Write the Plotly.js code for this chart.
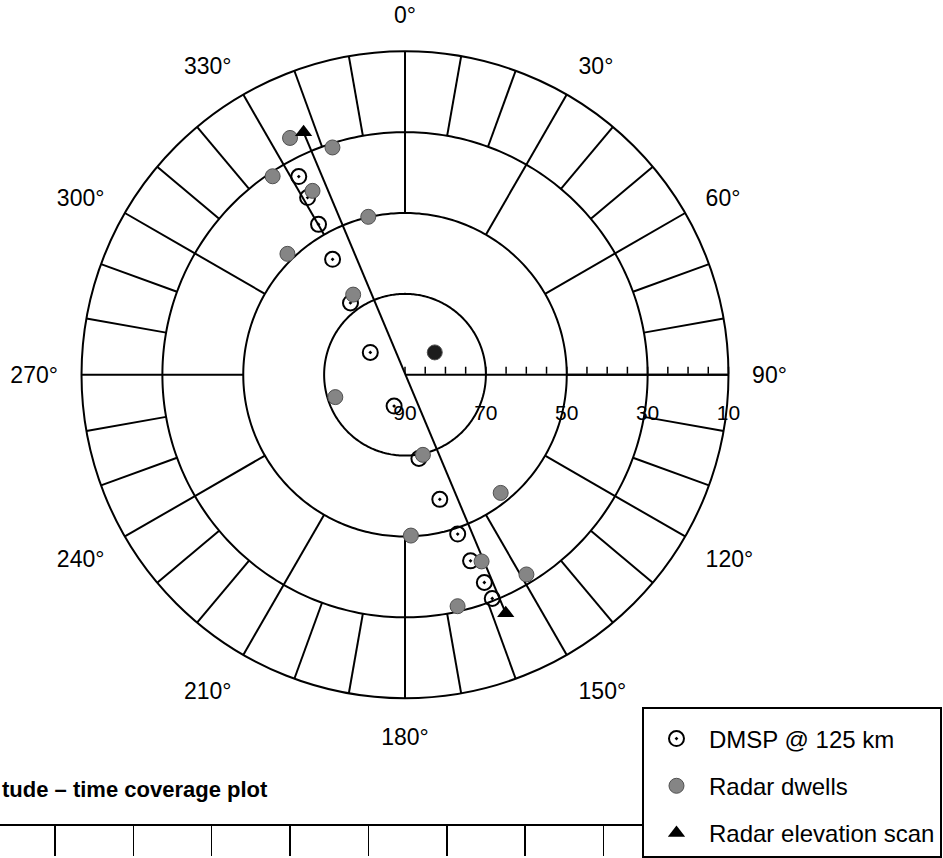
<!DOCTYPE html>
<html>
<head>
<meta charset="utf-8">
<script src="https://cdn.plot.ly/plotly-3.0.1.min.js"></script>
<style>
  html, body { margin: 0; padding: 0; background: #fff; }
  #chart { width: 943px; height: 858px; }
</style>
</head>
<body>
<div id="chart"></div>
<script>
// DMSP footprints projected to 125 km: elevation (deg) and azimuth (deg east of north)
const dmspElevation = [34.4, 40.0, 47.1, 56.3, 67.7, 79.8, 81.8, 69.0, 58.0, 48.5, 41.2, 35.0, 30.6];
const dmspAzimuth   = [331.8, 331.2, 330.1, 327.9, 322.8, 302.7, 199.2, 170.6, 164.4, 161.7, 160.6, 159.1, 158.7];

// Radar dwell pointing directions
const dwellElevation = [24.9, 31.0, 31.0, 39.1, 49.9, 48.3, 66.4, 80.8, 71.9, 69.7, 52.4, 50.2, 40.1, 32.2, 31.3];
const dwellAzimuth   = [334.1, 342.3, 326.3, 333.3, 346.9, 315.8, 327.1, 53.1, 252.2, 167.4, 141.0, 177.9, 157.7, 148.7, 167.2];

// End points of the radar elevation scan
const scanElevation = [25.0, 26.0];
const scanAzimuth   = [337.3, 157.1];

// Tick labels
const azimuthTicks  = [0, 30, 60, 90, 120, 150, 180, 210, 240, 270, 300, 330];
const azimuthLabels = ['0°', '30°', '60°', '90°', '120°', '150°', '180°', '210°', '240°', '270°', '300°', '330°'];
const elevationTicks  = [90, 85, 80, 75, 70, 65, 60, 55, 50, 45, 40, 35, 30, 25, 20, 15, 10];
const elevationLabelValues = [90, 70, 50, 30, 10];
const elevationLabels = ['90', '70', '50', '30', '10'];

// Elevation rings drawn inside the outer boundary
const ringElevations = [70, 50, 30];

const FONT = 'Liberation Sans, Arial, Helvetica, sans-serif';
const INK = '#000';

// Ring traces: full circles at constant elevation
const ringTraces = ringElevations.map(el => {
  const th = [];
  for (let a = 0; a <= 360; a += 1) th.push(a);
  return {
    type: 'scatterpolar', mode: 'lines', r: th.map(() => el), theta: th,
    line: { color: INK, width: 2 }, hoverinfo: 'skip', showlegend: false
  };
});

// Spokes: every 10 deg in the outer band, every 30 deg in the middle band
function spokes(step, rInner, rOuter) {
  const r = [], th = [];
  for (let a = 0; a < 360; a += step) {
    r.push(rInner, rOuter, null);
    th.push(a, a, null);
  }
  return {
    type: 'scatterpolar', mode: 'lines', r: r, theta: th, connectgaps: false,
    line: { color: INK, width: 2 }, hoverinfo: 'skip', showlegend: false
  };
}

const traces = [
  ...ringTraces,
  spokes(10, 30, 10),
  spokes(30, 50, 30),
  // elevation labels hung below the 90-degree azimuth axis
  {
    type: 'scatterpolar', mode: 'markers+text',
    r: elevationLabelValues, theta: elevationLabelValues.map(() => 90),
    text: elevationLabels, textposition: 'bottom center',
    textfont: { size: 21, family: FONT, color: INK },
    marker: { size: 46, color: 'rgba(0,0,0,0)' },
    cliponaxis: false, hoverinfo: 'skip', showlegend: false
  },
  // straight track joining the two scan end points
  {
    type: 'scatterpolar', mode: 'lines', r: scanElevation, theta: scanAzimuth,
    line: { color: INK, width: 2 }, hoverinfo: 'skip', showlegend: false
  },
  {
    type: 'scatterpolar', mode: 'markers', name: 'DMSP @ 125 km', legendgroup: 'a',
    r: dmspElevation, theta: dmspAzimuth,
    marker: { symbol: 'circle-open-dot', size: 15, color: INK, line: { width: 2, color: INK } }
  },
  {
    type: 'scatterpolar', mode: 'markers', name: 'Radar dwells', legendgroup: 'b',
    r: dwellElevation, theta: dwellAzimuth,
    marker: {
      symbol: 'circle', size: 15,
      color: dwellElevation.map((_, i) => (i === 7 ? '#1c1c1c' : '#858585')),
      line: { width: 1, color: '#505050' }
    }
  },
  {
    type: 'scatterpolar', mode: 'markers', name: 'Radar elevation scan', legendgroup: 'c',
    r: scanElevation, theta: scanAzimuth,
    marker: { symbol: 'triangle-up', size: 15, color: INK }
  },
  // empty trace that carries the frame of the panel below
  { type: 'scatter', x: [], y: [], xaxis: 'x', yaxis: 'y', showlegend: false, hoverinfo: 'skip' }
];

const layout = {
  width: 943, height: 858,
  margin: { l: 0, r: 0, t: 0, b: 0 },
  paper_bgcolor: '#fff', plot_bgcolor: '#fff',
  font: { family: FONT, color: INK, size: 20 },
  showlegend: true,
  polar: {
    domain: { x: [0.08484, 0.77413], y: [0.18240, 0.93998] },
    bgcolor: '#fff',
    angularaxis: {
      rotation: 90, direction: 'clockwise',
      tickmode: 'array', tickvals: azimuthTicks, ticktext: azimuthLabels,
      showgrid: false, showline: true, linecolor: INK, linewidth: 2,
      ticks: 'outside', ticklen: 18, tickcolor: 'rgba(0,0,0,0)',
      tickfont: { size: 23, family: FONT, color: INK }
    },
    radialaxis: {
      range: [90, 10], angle: 0, side: 'clockwise',
      tickmode: 'array', tickvals: elevationTicks, showticklabels: false,
      ticks: 'inside', ticklen: 7, tickwidth: 1.5, tickcolor: INK,
      showline: true, linecolor: INK, linewidth: 2, showgrid: false
    }
  },
  xaxis: {
    domain: [0, 0.6808], range: [-0.7, 7.49], side: 'top',
    showline: true, linecolor: INK, linewidth: 2,
    ticks: 'inside', ticklen: 30, tickwidth: 1.5, tickcolor: INK,
    tickmode: 'linear', tick0: 0, dtick: 1,
    showticklabels: false, showgrid: false, zeroline: false, fixedrange: true
  },
  yaxis: {
    domain: [0, 0.033], range: [0, 1],
    showline: false, showticklabels: false, ticks: '', showgrid: false, zeroline: false, fixedrange: true
  },
  legend: {
    x: 0.6808, y: 0.1725, xanchor: 'left', yanchor: 'top',
    bordercolor: INK, borderwidth: 2, bgcolor: '#fff',
    font: { size: 24, family: FONT, color: INK },
    title: { text: ' ', font: { size: 6 } },
    traceorder: 'grouped', tracegroupgap: 13, itemwidth: 55
  },
  annotations: [{
    text: '<b>tude – time coverage plot</b>',
    xref: 'paper', yref: 'paper', x: 0, y: 0.0758,
    xanchor: 'left', yanchor: 'middle', showarrow: false,
    font: { size: 22, family: FONT, color: INK }
  }]
};

Plotly.newPlot('chart', traces, layout, { displayModeBar: false, staticPlot: true });
</script>
</body>
</html>
